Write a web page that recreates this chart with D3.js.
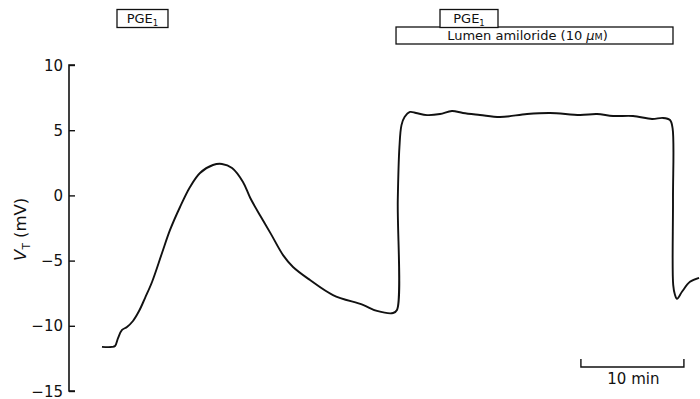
<!DOCTYPE html>
<html>
<head>
<meta charset="utf-8">
<script src="https://cdn.jsdelivr.net/npm/d3@7"></script>
<style>
  html, body { margin: 0; padding: 0; background: #fff; }
  svg { display: block; }
  text { font-family: "DejaVu Sans", "Liberation Sans", sans-serif; fill: #111; }
</style>
</head>
<body>
<svg id="chart" width="700" height="399"></svg>
<script>
// Transepithelial voltage trace: time (min) and V_T (mV)
const timeMin = [3.20, 4.17, 4.47, 4.76, 5.15, 5.63, 6.21, 6.80, 7.38, 8.06, 9.03, 9.81, 10.78, 11.75,
  12.72, 13.98, 14.85, 15.83, 16.89, 17.60, 18.60, 19.60, 20.80, 21.75, 23.40, 25.63, 28.54, 29.90,
  31.46, 31.84, 31.92, 32.08, 32.28, 32.58, 33.11, 33.69, 34.76, 36.02, 37.18, 38.25, 39.90, 41.84,
  44.47, 46.70, 49.61, 51.26, 52.82, 54.76, 56.60, 57.67, 58.35, 58.60, 58.64, 58.66, 58.83, 59.03,
  59.51, 60.29, 61.17];
const voltage = [-11.62, -11.62, -11.55, -10.94, -10.32, -10.09, -9.63, -8.87, -7.87, -6.64, -4.42, -2.65,
  -0.89, 0.64, 1.72, 2.33, 2.41, 2.10, 1.03, -0.20, -1.60, -2.95, -4.60, -5.49, -6.49, -7.64, -8.40,
  -8.86, -9.02, -8.79, -0.37, 3.70, 5.39, 6.01, 6.40, 6.32, 6.16, 6.24, 6.47, 6.32, 6.17, 6.01,
  6.24, 6.32, 6.17, 6.24, 6.09, 6.09, 5.86, 5.94, 5.78, 5.16, -0.35, -6.86, -7.62, -7.93,
  -7.39, -6.63, -6.32];

// Drug application periods (min)
const pgeLabels = ["PGE", "PGE"];
const pgeStart = [4.66, 36.02];
const pgeEnd = [9.61, 41.65];
const amilorideLabel = "Lumen amiloride (10 ";
const amilorideStart = [31.75];
const amilorideEnd = [58.64];

// Axis ticks
const yTicks = [10, 5, 0, -5, -10, -15];
const scaleBarMin = [49.7, 59.7];
const scaleBarLabel = "10 min";

const svg = d3.select("#chart");
const x = d3.scaleLinear().domain([0, 60]).range([69, 687]);
const y = d3.scaleLinear().domain([-15, 10]).range([391, 65]);

// Y axis with inward ticks
const axis = d3.axisRight(y).tickValues(yTicks).tickSize(6).tickFormat("");
const gAxis = svg.append("g").attr("transform", `translate(${x(0)},0)`).call(axis);
gAxis.select(".domain").attr("d", `M6,${y(10)}H0V${y(-15)}H6`).attr("stroke", "#111").attr("stroke-width", 1.6).attr("fill", "none");
gAxis.selectAll(".tick line").attr("stroke", "#111").attr("stroke-width", 1.4);

svg.append("g").selectAll("text").data(yTicks).join("text")
  .attr("x", x(0) - 6).attr("y", d => y(d) + 5.5)
  .attr("text-anchor", "end").attr("font-size", 15)
  .text(d => d < 0 ? "\u2212" + Math.abs(d) : d);

// Y axis label: V_T (mV)
const yl = svg.append("text")
  .attr("transform", `translate(26,${y(-2.6)}) rotate(-90)`)
  .attr("text-anchor", "middle").attr("font-size", 16.5);
yl.append("tspan").attr("font-style", "italic").text("V");
yl.append("tspan").attr("font-size", 10.5).attr("dy", 4).text("T");
yl.append("tspan").attr("dy", -4).text(" (mV)");

// Voltage trace
const pts = timeMin.map((t, i) => [t, voltage[i]]);
svg.append("path")
  .datum(pts)
  .attr("fill", "none").attr("stroke", "#111").attr("stroke-width", 1.9)
  .attr("stroke-linejoin", "round")
  .attr("d", d3.line().x(d => x(d[0])).y(d => y(d[1])).curve(d3.curveCatmullRom.alpha(0.5)));

// Drug bars
function box(x0, x1, y0, y1) {
  svg.append("rect").attr("x", x0).attr("y", y0).attr("width", x1 - x0).attr("height", y1 - y0)
    .attr("fill", "#fff").attr("stroke", "#111").attr("stroke-width", 1.3);
}
amilorideStart.forEach((s, i) => {
  box(x(s), x(amilorideEnd[i]), 27, 44);
  const t = svg.append("text").attr("x", (x(s) + x(amilorideEnd[i])) / 2 - 7).attr("y", 40)
    .attr("text-anchor", "middle").attr("font-size", 13);
  t.append("tspan").text(amilorideLabel);
  t.append("tspan").attr("font-style", "italic").text("\u03bc");
  t.append("tspan").attr("font-size", 9.5).text("M");
  t.append("tspan").text(")");
});
pgeStart.forEach((s, i) => {
  box(x(s), x(pgeEnd[i]), 9.5, 27.5);
  const t = svg.append("text").attr("x", (x(s) + x(pgeEnd[i])) / 2).attr("y", 23)
    .attr("text-anchor", "middle").attr("font-size", 13);
  t.append("tspan").text(pgeLabels[i]);
  t.append("tspan").attr("font-size", 8.5).attr("dy", 3).text("1");
});

// Time scale bar
const sb = svg.append("g");
sb.append("path")
  .attr("d", `M${x(scaleBarMin[0])},359V367H${x(scaleBarMin[1])}V359`)
  .attr("fill", "none").attr("stroke", "#111").attr("stroke-width", 1.4);
sb.append("text").attr("x", (x(scaleBarMin[0]) + x(scaleBarMin[1])) / 2 + 1).attr("y", 384)
  .attr("text-anchor", "middle").attr("font-size", 15).text(scaleBarLabel);
</script>
</body>
</html>
